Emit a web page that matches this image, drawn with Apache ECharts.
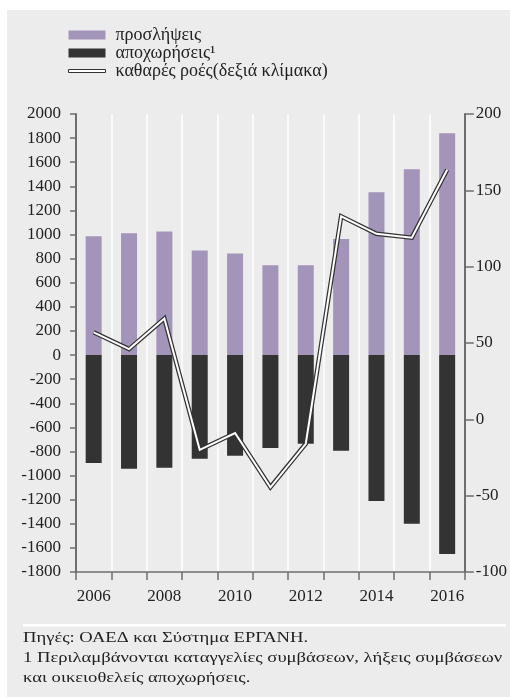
<!DOCTYPE html>
<html>
<head>
<meta charset="utf-8">
<script src="https://cdn.jsdelivr.net/npm/echarts@6/dist/echarts.min.js"></script>
<style>
  html, body { margin: 0; padding: 0; background: #fff; }
  #main { width: 510px; height: 697px; }
</style>
</head>
<body>
<div id="main"></div>
<script>
    var years = ['2006','2007','2008','2009','2010','2011','2012','2013','2014','2015','2016'];
    var hires = [985, 1010, 1025, 868, 843, 746, 746, 962, 1350, 1542, 1840];//προσλήψεις
    var exits = [-895, -943, -935, -860, -836, -772, -736, -795, -1210, -1400, -1650];//αποχωρήσεις
    var netFlows = [57, 46, 66, -20, -9, -44.5, -16, 133, 121.5, 119, 163.5];//καθαρές ροές (δεξιά κλίμακα)
    var leftTicks = {min: -1800, max: 2000, step: 200};
    var rightTicks = {min: -100, max: 200, step: 50};

    var serif = '"Liberation Serif", "DejaVu Serif", serif';
    var txtColor = '#222222';
    var axisColor = '#6e6e6e';

    var myChart = echarts.init(document.getElementById('main'));
    var footFont = '15px "Liberation Serif", "DejaVu Serif", serif';
    var option = {
        backgroundColor: '#fff',
        animation: false,
        graphic: [
            {type: 'rect', z: -10, silent: true, shape: {x: 7, y: 10, width: 503, height: 687}, style: {fill: '#ececec'}},
            {type: 'rect', z: 1, silent: true, shape: {x: 23, y: 624, width: 483, height: 2.5}, style: {fill: '#ffffff'}},
            {type: 'text', x: 23, y: 631, scaleX: 1.24, style: {text: 'Πηγές: ΟΑΕΔ και Σύστημα ΕΡΓΑΝΗ.', font: footFont, fill: txtColor}},
            {type: 'text', x: 23, y: 651, scaleX: 1.24, style: {text: '1 Περιλαμβάνονται καταγγελίες συμβάσεων, λήξεις συμβάσεων', font: footFont, fill: txtColor}},
            {type: 'text', x: 23, y: 671, scaleX: 1.24, style: {text: 'και οικειοθελείς αποχωρήσεις.', font: footFont, fill: txtColor}}
        ],
        legend: {
            orient: 'vertical',
            left: 68,
            top: 26,
            padding: 0,
            itemWidth: 37,
            itemHeight: 9,
            itemGap: 0,
            textStyle: {fontFamily: serif, fontSize: 18, color: txtColor, lineHeight: 18, padding: [0, 0, 0, 5]},
            data: [
                {name: 'προσλήψεις', icon: 'rect'},
                {name: 'αποχωρήσεις¹', icon: 'rect'},
                {name: 'καθαρές ροές(δεξιά κλίμακα)', icon: 'path://M0,0M0,3H37V6H0ZM0,9',
                    itemStyle: {color: '#ffffff', borderColor: '#333333', borderWidth: 1}}
            ]
        },
        grid: {
            left: 76,
            right: 43,
            top: 114,
            bottom: 125
        },
        xAxis: {
            type: 'category',
            data: years,
            boundaryGap: true,
            axisLine: {show: true, onZero: false, lineStyle: {color: axisColor, width: 1.5}},
            axisTick: {show: true, interval: 0, length: 8, lineStyle: {color: axisColor, width: 1.5}},
            axisLabel: {interval: 1, margin: 16, fontFamily: serif, fontSize: 17, color: txtColor},
            splitLine: {show: true, interval: 0, lineStyle: {color: '#ffffff', width: 1.5}}
        },
        yAxis: [
            {
                type: 'value',
                min: leftTicks.min,
                max: leftTicks.max,
                interval: leftTicks.step,
                axisLine: {show: true, lineStyle: {color: axisColor, width: 2}},
                axisTick: {show: true, length: 6, lineStyle: {color: axisColor, width: 1.5}},
                axisLabel: {margin: 15, fontFamily: serif, fontSize: 17, color: txtColor,
                    formatter: function(v){ return String(v); }},
                splitLine: {show: false}
            },
            {
                type: 'value',
                position: 'right',
                min: rightTicks.min,
                max: rightTicks.max,
                interval: rightTicks.step,
                axisLine: {show: true, lineStyle: {color: axisColor, width: 2}},
                axisTick: {show: true, length: 9, lineStyle: {color: axisColor, width: 1.5}},
                axisLabel: {margin: 11, fontFamily: serif, fontSize: 17, color: txtColor,
                    formatter: function(v){ return String(v); }},
                splitLine: {show: false}
            }
        ],
        series: [
            {
                name: 'προσλήψεις',
                type: 'bar',
                barWidth: 16,
                barGap: '-100%',
                itemStyle: {color: '#a394ba'},
                data: hires
            },
            {
                name: 'αποχωρήσεις¹',
                type: 'bar',
                barWidth: 16,
                barGap: '-100%',
                itemStyle: {color: '#333333'},
                data: exits
            },
            {
                name: 'καθαρές ροές(δεξιά κλίμακα)',
                type: 'line',
                yAxisIndex: 1,
                symbol: 'none',
                z: 5,
                lineStyle: {color: '#333333', width: 4.5, join: 'miter'},
                itemStyle: {color: '#333333'},
                data: netFlows
            },
            {
                name: 'net_inner',
                type: 'line',
                yAxisIndex: 1,
                symbol: 'none',
                z: 6,
                lineStyle: {color: '#ffffff', width: 2, join: 'miter'},
                data: netFlows
            }
        ]
    };
    myChart.setOption(option);
</script>
</body>
</html>
